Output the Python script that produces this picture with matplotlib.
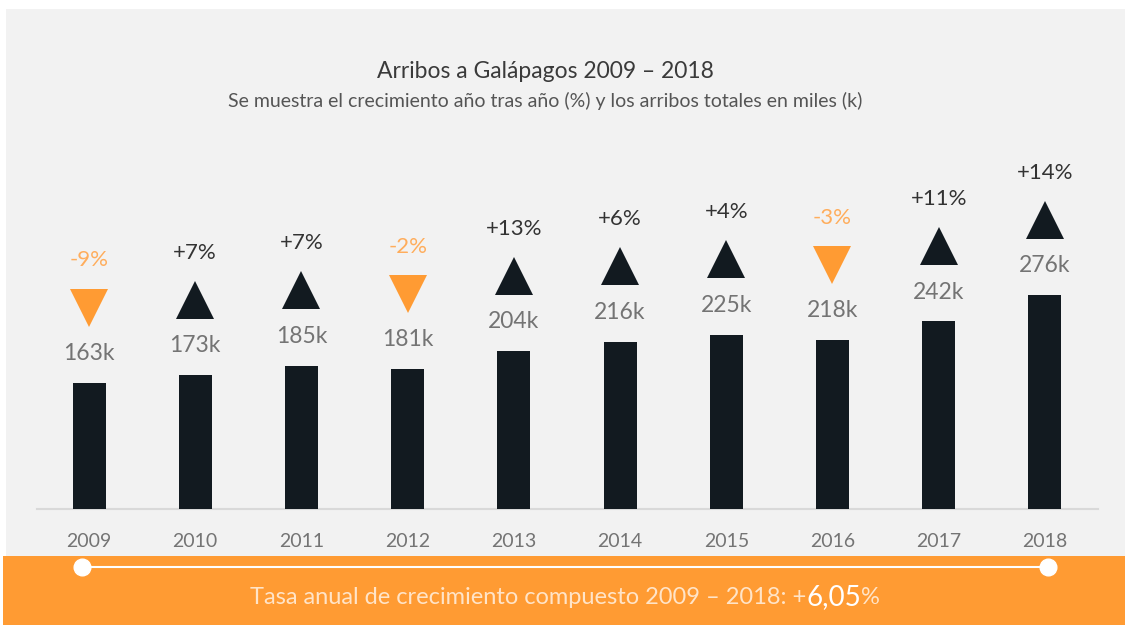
import matplotlib
matplotlib.use("Agg")
import matplotlib.pyplot as plt
from matplotlib.patches import Rectangle
from matplotlib.lines import Line2D

# datos
years = ["2009", "2010", "2011", "2012", "2013", "2014", "2015", "2016", "2017", "2018"]
arrivals_k = [163, 173, 185, 181, 204, 216, 225, 218, 242, 276]
growth_pct = [-9, 7, 7, -2, 13, 6, 4, -3, 11, 14]
cagr_text = "6,05"

W, H = 1125, 625
DARK = "#121a20"
ORANGE = "#ff9b33"
ORANGE_TXT = "#ffad5c"
GRAY_TXT = "#747474"
FONT = "Lato"

plt.rcParams["font.family"] = [FONT, "DejaVu Sans"]

fig = plt.figure(figsize=(W / 100, H / 100), dpi=100)
fig.patch.set_facecolor("white")

# paneles de fondo (coordenadas en pixeles -> fraccion de figura)
def px_rect(x0, y0, x1, y1, color):
    fig.add_artist(Rectangle((x0 / W, 1 - y1 / H), (x1 - x0) / W, (y1 - y0) / H,
                             transform=fig.transFigure, facecolor=color,
                             edgecolor="none", zorder=-10))

px_rect(6, 9, W, 556, "#f2f2f2")
px_rect(3, 556, W, H, ORANGE)

# eje principal
base_px = 509
top_px = 105
ax = fig.add_axes([37 / W, 1 - base_px / H, (1098 - 37) / W, (base_px - top_px) / H])
ax.set_facecolor("none")
px_per_k = 0.775
ax.set_xlim(-0.49, 9.5)
ax.set_ylim(0, (base_px - top_px) / px_per_k)

x = list(range(len(years)))
ax.bar(x, arrivals_k, width=0.31, color=DARK, zorder=3)

for s in ["top", "right", "left"]:
    ax.spines[s].set_visible(False)
ax.spines["bottom"].set_color("#d9d9d9")
ax.spines["bottom"].set_linewidth(1.5)
ax.set_yticks([])
ax.set_xticks(x)
ax.set_xticklabels(years, fontsize=14, color=GRAY_TXT)
ax.tick_params(axis="x", length=0, pad=17)

for xi, v, g in zip(x, arrivals_k, growth_pct):
    ax.annotate(f"{v}k", (xi, v), xytext=(0, 21), textcoords="offset points",
                ha="center", va="center", fontsize=16.5, color=GRAY_TXT)
    up = g >= 0
    tri_col = DARK if up else ORANGE
    ax.plot([xi], [v + 97], marker="^" if up else "v", markersize=28,
            color=tri_col, markeredgewidth=0, clip_on=False, zorder=4)
    label = f"+{g}%" if up else f"{g}%"
    ax.annotate(label, (xi, v), xytext=(0, 88), textcoords="offset points",
                ha="center", va="center", fontsize=16,
                color="#333333" if up else ORANGE_TXT)

# titulos
fig.text(545 / W, 1 - 72 / H, "Arribos a Galápagos 2009 – 2018", ha="center",
         va="center", fontsize=16.5, color="#3a3a3a")
fig.text(545 / W, 1 - 101 / H,
         "Se muestra el crecimiento año tras año (%) y los arribos totales en miles (k)",
         ha="center", va="center", fontsize=14, color="#555555")

# banda inferior
ly = 1 - 567 / H
fig.add_artist(Line2D([82 / W, 1048 / W], [ly, ly], transform=fig.transFigure,
                      color="white", linewidth=1.5, marker="o", markersize=12,
                      markevery=[0, 1], zorder=5))

ty = 1 - 597 / H
t1 = fig.text(0, ty, "Tasa anual de crecimiento compuesto 2009 – 2018: +",
              ha="left", va="center", fontsize=17, color="#ffe4c8")
t2 = fig.text(0, ty, cagr_text, ha="left", va="center", fontsize=20, color="white")
t3 = fig.text(0, ty, "%", ha="left", va="center", fontsize=17, color="#ffe4c8")
fig.canvas.draw()
r = fig.canvas.get_renderer()
w1 = t1.get_window_extent(r).width
w2 = t2.get_window_extent(r).width
w3 = t3.get_window_extent(r).width
start = 565 - (w1 + w2 + w3) / 2
t1.set_x(start / W)
t2.set_x((start + w1) / W)
t3.set_x((start + w1 + w2) / W)

fig.savefig("out.png", dpi=100, facecolor=fig.get_facecolor())
